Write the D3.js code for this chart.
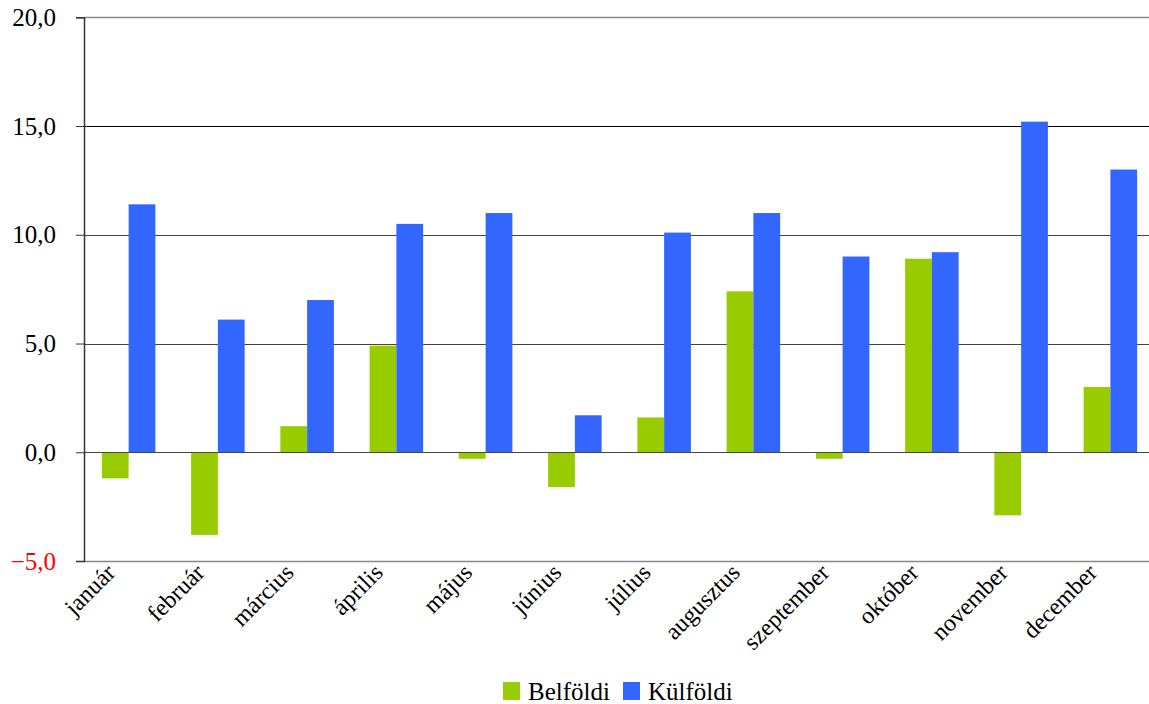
<!DOCTYPE html>
<html>
<head>
<meta charset="utf-8">
<script src="https://cdn.jsdelivr.net/npm/d3@7"></script>
<style>
  body { margin: 0; background: #fff; }
  text { font-family: "Liberation Serif", "DejaVu Serif", serif; }
</style>
</head>
<body>
<svg width="1149" height="704"></svg>
<script>
// data
var months = ['január', 'február', 'március', 'április', 'május', 'június',
    'július', 'augusztus', 'szeptember', 'október', 'november', 'december']
var belfoldi = [-1.2, -3.8, 1.2, 4.9, -0.3, -1.6, 1.6, 7.4, -0.3, 8.9, -2.9, 3.0]
var kulfoldi = [11.4, 6.1, 7.0, 10.5, 11.0, 1.7, 10.1, 11.0, 9.0, 9.2, 15.2, 13.0]
var seriesNames = ['Belföldi', 'Külföldi']
var colors = ['#99cc00', '#3366ff']
var yTicks = [-5, 0, 5, 10, 15, 20]

var svg = d3.select('svg')
var plotLeft = 84, plotRight = 1155, plotTop = 17.3, plotBottom = 561

var x = d3.scaleBand()
    .domain(months)
    .range([plotLeft, plotRight])
    .paddingInner(0.4)
    .paddingOuter(0.2)
var xSub = d3.scaleBand()
    .domain(seriesNames)
    .range([0, x.bandwidth()])

var y = d3.scaleLinear()
    .domain([-5, 20])
    .range([plotBottom, plotTop])

// gridlines
var gridColor = function(d) {
    if (d === 20 || d === -5) return '#888'
    if (d === 15) return '#000'
    return '#444'
}
svg.append('g')
    .selectAll('line')
    .data(yTicks.filter(d => d !== 0))
    .enter()
    .append('line')
    .attr('x1', plotLeft)
    .attr('x2', 1149)
    .attr('y1', d => Math.round(y(d)) + 0.5)
    .attr('y2', d => Math.round(y(d)) + 0.5)
    .attr('stroke', gridColor)
    .attr('stroke-width', d => (d === 20 || d === -5) ? 1.5 : 1)

// bars
var rows = months.map((m, i) => ({ month: m, values: [belfoldi[i], kulfoldi[i]] }))
var groups = svg.append('g')
    .selectAll('g')
    .data(rows)
    .enter()
    .append('g')
    .attr('transform', d => 'translate(' + x(d.month) + ',0)')
groups.selectAll('rect')
    .data(d => d.values.map((v, j) => ({ name: seriesNames[j], value: v, j: j })))
    .enter()
    .append('rect')
    .attr('x', d => xSub(d.name))
    .attr('width', xSub.bandwidth())
    .attr('y', d => y(Math.max(0, d.value)))
    .attr('height', d => Math.abs(y(d.value) - y(0)))
    .attr('fill', d => colors[d.j])

// zero line over bars
svg.append('line')
    .attr('x1', plotLeft)
    .attr('x2', 1149)
    .attr('y1', Math.round(y(0)) + 0.5)
    .attr('y2', Math.round(y(0)) + 0.5)
    .attr('stroke', '#444')

// y axis
var yAxis = d3.axisLeft(y)
    .tickValues(yTicks)
    .tickSize(8)
    .tickPadding(20)
    .tickFormat(d => d3.format('.1f')(d).replace('.', ','))
var yg = svg.append('g')
    .attr('transform', 'translate(' + plotLeft + ',0)')
    .call(yAxis)
yg.select('.domain').attr('stroke', '#333').attr('stroke-width', 1.5)
yg.selectAll('.tick line').attr('stroke', '#333')
yg.selectAll('.tick text')
    .attr('font-size', 25)
    .attr('font-family', '"Liberation Serif", serif')
    .attr('fill', d => d < 0 ? '#ff0000' : '#000')

// x labels
svg.append('g')
    .selectAll('text')
    .data(months)
    .enter()
    .append('text')
    .attr('transform', d => 'translate(' + (x(d) + x.bandwidth() / 2 - 12) + ',' + 574 + ') rotate(-45)')
    .attr('text-anchor', 'end')
    .attr('font-size', 24)
    .attr('fill', '#000')
    .text(d => d)

// legend
var legend = svg.append('g')
var legendX = [503, 623]
seriesNames.forEach(function(name, i) {
    legend.append('rect')
        .attr('x', legendX[i])
        .attr('y', 682)
        .attr('width', 17)
        .attr('height', 18)
        .attr('fill', colors[i])
    legend.append('text')
        .attr('x', legendX[i] + 25)
        .attr('y', 700)
        .attr('font-size', 25)
        .attr('fill', '#000')
        .text(name)
})
</script>
</body>
</html>
